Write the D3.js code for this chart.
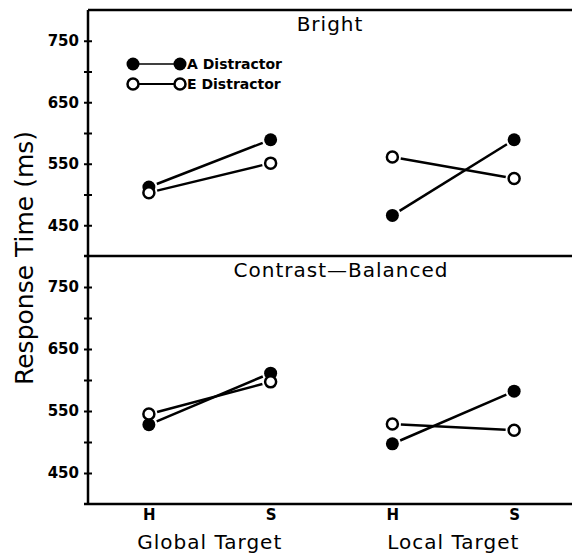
<!DOCTYPE html>
<html>
<head>
<meta charset="utf-8">
<script src="https://cdn.jsdelivr.net/npm/d3@7"></script>
<style>
  body { margin: 0; background: #fff; }
  svg { display: block; }
</style>
</head>
<body>
<div id="chart"></div>
<script>
// data
var panels = ["Bright", "Contrast\u2014Balanced"];
var groups = ["Global Target", "Local Target"];
var targets = ["H", "S"];
var yTicks = [450, 500, 550, 600, 650, 700, 750];
var yLabels = [450, 550, 650, 750];

// order: Global H, Global S, Local H, Local S
var brightA = [512, 589, 466, 589];
var brightE = [503, 551, 561, 526];
var contrastA = [528, 611, 497, 582];
var contrastE = [545, 597, 529, 519];

var seriesNames = ["A Distractor", "E Distractor"];

var w = 572, h = 556;
var axisX = 88;
var panelTops = [10, 256];
var panelBottoms = [256, 504];
var r = 6.5;

var svg = d3.select("#chart").append("svg")
  .attr("width", w).attr("height", h);

var keys = [];
groups.forEach(function(g) { targets.forEach(function(t) { keys.push(g + "|" + t); }); });

var x = d3.scalePoint()
  .domain(keys)
  .range([axisX, 575])
  .padding(0.5);

var panelData = [[brightA, brightE], [contrastA, contrastE]];

panels.forEach(function(name, p) {
  var y = d3.scaleLinear()
    .domain([400, 800])
    .range([panelBottoms[p], panelTops[p]]);

  var yAxis = d3.axisLeft(y)
    .tickValues(yTicks)
    .tickSize(4)
    .tickPadding(5)
    .tickFormat(function(d) { return yLabels.indexOf(d) >= 0 ? d : ""; });

  var g = svg.append("g")
    .attr("transform", "translate(" + axisX + ",0)")
    .call(yAxis);
  g.select(".domain").remove();
  g.selectAll(".tick line").attr("x1", -4).attr("x2", 4)
    .attr("stroke", "#000").attr("stroke-width", 2);
  g.selectAll(".tick text")
    .attr("fill", "#000")
    .style("font-family", "DejaVu Sans")
    .style("font-weight", "bold")
    .style("font-size", "15px");

  // panel title
  svg.append("text")
    .attr("x", p == 0 ? 330 : 341)
    .attr("y", panelTops[p] + 21)
    .attr("text-anchor", "middle")
    .style("font-family", "DejaVu Sans")
    .style("font-size", "20px")
    .style("letter-spacing", "1px")
    .text(name);

  // series
  panelData[p].forEach(function(vals, s) {
    for (var gi = 0; gi < groups.length; gi++) {
      var i0 = gi * 2, i1 = gi * 2 + 1;
      var x0 = x(keys[i0]), y0 = y(vals[i0]);
      var x1 = x(keys[i1]), y1 = y(vals[i1]);
      var dx = x1 - x0, dy = y1 - y0;
      var len = Math.sqrt(dx * dx + dy * dy);
      var gap = r + 2;
      svg.append("line")
        .attr("x1", x0 + dx / len * gap).attr("y1", y0 + dy / len * gap)
        .attr("x2", x1 - dx / len * gap).attr("y2", y1 - dy / len * gap)
        .attr("stroke", "#000").attr("stroke-width", 2.5);
    }
  });
  panelData[p].forEach(function(vals, s) {
    svg.selectAll(null)
      .data(vals)
      .enter().append("circle")
      .attr("cx", function(d, i) { return x(keys[i]); })
      .attr("cy", function(d) { return y(d); })
      .attr("r", s == 0 ? r : r - 1)
      .attr("fill", s == 0 ? "#000" : "#fff")
      .attr("stroke", "#000")
      .attr("stroke-width", s == 0 ? 0 : 2.5);
  });
});

// frame lines
svg.append("line").attr("x1", axisX).attr("x2", w).attr("y1", panelTops[0]).attr("y2", panelTops[0])
  .attr("stroke", "#000").attr("stroke-width", 2.5);
svg.append("line").attr("x1", axisX - 4).attr("x2", w).attr("y1", panelTops[1]).attr("y2", panelTops[1])
  .attr("stroke", "#000").attr("stroke-width", 2.5);
svg.append("line").attr("x1", axisX - 4).attr("x2", w).attr("y1", panelBottoms[1]).attr("y2", panelBottoms[1])
  .attr("stroke", "#000").attr("stroke-width", 2.5);
svg.append("line").attr("x1", axisX).attr("x2", axisX).attr("y1", panelTops[0]).attr("y2", panelBottoms[1])
  .attr("stroke", "#000").attr("stroke-width", 2.5);

// x tick labels
var xAxis = d3.axisBottom(x)
  .tickSize(0)
  .tickPadding(5)
  .tickFormat(function(d) { return d.split("|")[1]; });
var xg = svg.append("g")
  .attr("transform", "translate(0," + panelBottoms[1] + ")")
  .call(xAxis);
xg.select(".domain").remove();
xg.selectAll(".tick text")
  .attr("fill", "#000")
  .style("font-family", "DejaVu Sans")
  .style("font-weight", "bold")
  .style("font-size", "15px");

// group labels
groups.forEach(function(gname, gi) {
  var cx = (x(keys[gi * 2]) + x(keys[gi * 2 + 1])) / 2;
  svg.append("text")
    .attr("x", cx)
    .attr("y", 549)
    .attr("text-anchor", "middle")
    .style("font-family", "DejaVu Sans")
    .style("font-size", "20px")
    .style("letter-spacing", "1px")
    .text(gname);
});

// y title
svg.append("text")
  .attr("transform", "translate(33,258) rotate(-90)")
  .attr("text-anchor", "middle")
  .style("font-family", "DejaVu Sans")
  .style("font-size", "25px")
  .text("Response Time (ms)");

// legend
var legendY = [64, 84];
seriesNames.forEach(function(name, s) {
  var ly = legendY[s];
  svg.append("line")
    .attr("x1", 133).attr("x2", 180).attr("y1", ly).attr("y2", ly)
    .attr("stroke", "#000").attr("stroke-width", s == 0 ? 1.5 : 2);
  [133, 180].forEach(function(cx) {
    svg.append("circle")
      .attr("cx", cx).attr("cy", ly)
      .attr("r", s == 0 ? r : r - 1)
      .attr("fill", s == 0 ? "#000" : "#fff")
      .attr("stroke", "#000")
      .attr("stroke-width", s == 0 ? 0 : 2.5);
  });
  svg.append("text")
    .attr("x", 187).attr("y", ly + 5)
    .style("font-family", "DejaVu Sans")
    .style("font-weight", "bold")
    .style("font-size", "14px")
    .text(name);
});
</script>
</body>
</html>
